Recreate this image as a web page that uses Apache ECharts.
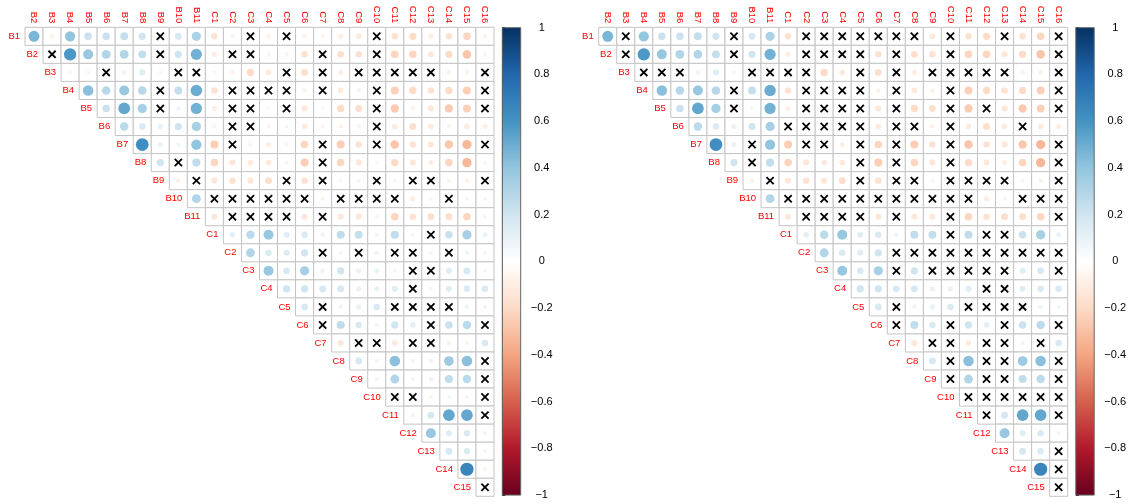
<!DOCTYPE html>
<html>
<head>
<meta charset="utf-8">
<script src="https://cdn.jsdelivr.net/npm/echarts@6/dist/echarts.min.js"></script>
<style>
  html, body { margin: 0; padding: 0; background: #fff; }
  #chart { width: 1132px; height: 504px; }
</style>
</head>
<body>
<div id="chart"></div>
<script>
const colLabels = ['B2', 'B3', 'B4', 'B5', 'B6', 'B7', 'B8', 'B9', 'B10', 'B11',
  'C1', 'C2', 'C3', 'C4', 'C5', 'C6', 'C7', 'C8', 'C9', 'C10', 'C11', 'C12', 'C13', 'C14', 'C15', 'C16'];
const rowLabels = ['B1', 'B2', 'B3', 'B4', 'B5', 'B6', 'B7', 'B8', 'B9', 'B10', 'B11',
  'C1', 'C2', 'C3', 'C4', 'C5', 'C6', 'C7', 'C8', 'C9', 'C10', 'C11', 'C12', 'C13', 'C14', 'C15'];

// upper triangle, row i starts at column i
const corrRows = [
  [.46, -.08, .4, .22, .22, .24, .2, .02, .18, .32, -.16, .07, .02, -.08, .02, -.07, -.07, -.1, -.12, .02, -.16, -.2, -.1, -.16, -.22, -.08],
  [.02, .58, .38, .3, .3, .24, .02, .2, .48, -.1, .02, .02, -.06, -.07, -.16, .02, -.18, -.16, .02, -.22, -.22, -.14, -.2, -.28, -.06],
  [-.06, .06, .02, .08, .14, .06, .02, .02, -.06, -.08, -.2, -.12, .02, -.18, .02, -.1, .02, .02, .02, .02, .02, -.08, -.08, .02],
  [.42, .28, .38, .28, .02, .24, .5, -.16, .02, .02, .02, .02, -.08, .02, -.12, -.08, .02, -.24, -.2, -.16, -.2, -.24, .02],
  [.22, .52, .33, .02, .07, .48, -.1, .02, .02, -.05, .02, -.14, .05, -.2, -.18, .02, -.26, -.07, -.14, -.26, -.24, .02],
  [.27, .16, .1, .2, .33, -.07, .02, .02, -.07, -.06, -.12, -.07, -.08, -.08, .02, -.12, -.18, -.12, -.07, -.12, -.1],
  [.62, .1, .07, .4, -.25, .02, -.07, -.1, -.07, -.22, .02, -.25, -.16, .02, -.28, -.16, -.14, -.27, -.33, .02],
  [.2, .02, .25, -.22, -.14, -.12, -.12, -.07, -.25, .02, -.22, -.14, -.06, -.2, -.14, -.1, -.22, -.33, -.06],
  [-.08, .02, -.14, -.16, -.14, -.18, .02, -.16, .02, -.07, -.07, .02, -.06, .02, .02, -.07, -.08, .02],
  [.3, .02, .02, .02, .02, .02, .02, -.06, .02, .02, .02, .02, -.1, -.06, .02, -.06, -.06],
  [-.14, .02, .02, .02, .02, -.14, .02, -.14, -.14, -.06, -.22, -.16, -.18, -.18, -.22, -.06],
  [.12, .27, .38, .14, .16, .08, .25, .24, .07, .25, .06, .02, .22, .33, .1],
  [.3, .16, .14, .2, .02, .06, .02, .08, .02, .02, -.06, .02, .08, .07],
  [.38, .17, .33, .08, .2, .1, .1, .07, .02, .02, .14, .18, .06],
  [.2, .2, .18, .18, .1, .1, .14, .02, -.06, .14, .16, .16],
  [.17, .02, .08, .1, .16, .02, .02, .02, .02, .08, .07],
  [.02, .25, .16, .07, .2, .12, .02, .22, .27, .02],
  [-.14, .02, .02, -.12, .02, .02, -.08, -.07, .16],
  [.18, .07, .42, .07, .07, .36, .42, .02],
  [.07, .3, .07, .08, .25, .27, .02],
  [.02, .02, -.07, .06, .06, .02],
  [.07, .18, .52, .52, .02],
  [.38, .14, .16, .07],
  [.18, .16, .06],
  [.66, -.07],
  [.02]
];

// 'x' = not significant
const insigLeft = [
  '.......x....x.x....x......',
  'x.....x...xx...x..x......',
  '..x...xx....x.x.xxxxx..x',
  '....x...xxxx.x..x.....x',
  '...x...xx.x....x.....x',
  '......xx......x......',
  '.....x....x..x.....x',
  '.x.......x.........',
  '.x....x.x..x.xx..x',
  '.xxxxxx.xxxx..x..',
  '.xxxx.x.........',
  '...........x...',
  '....x.x.xx.x..',
  '........xx...',
  '.......x....',
  '.x...xxxx..',
  'x.....x..x',
  '.xx.xx...',
  '.......x',
  '......x',
  'xx...x',
  '....x',
  '....',
  '...',
  '..',
  'x'
];
const insigRight = [
  '.x.....x...xxxxxxx.x..x..x',
  'x.....x...xxxx.x..x.....x',
  'xxx...xxxx..x.x.xxxxx..x',
  '....x...xxxx.x..x.....x',
  '...x...xxxx.x..x.x...x',
  '.....xxxxx.xx.x...x..',
  '..x..xx.x.x..x.....x',
  '.x.....x.x..x.....x',
  '.x....x.xx.xxxx..x',
  '.xxxxxxxxxxx..xxx',
  '.xxxx.x..x.....x',
  '........x.xx...',
  '....xxxxxxxxxx',
  '...x.xxxxx..x',
  '.......xx...',
  '.x...xxxx..',
  'x..x..x..x',
  '.xx.xx.x.',
  '.x.xx..x',
  'x.xx..x',
  'xxxxxx',
  'x...x',
  '....',
  '..x',
  '.x',
  'x'
];

const barTicks = ['\u22121', '\u22120.8', '\u22120.6', '\u22120.4', '\u22120.2', '0', '0.2', '0.4', '0.6', '0.8', '1'];
const palette = ['#67001F', '#B2182B', '#D6604D', '#F4A582', '#FDDBC7', '#FFFFFF',
  '#D1E5F0', '#92C5DE', '#4393C3', '#2166AC', '#053061'];

function hex(c) {
  return [1, 3, 5].map(k => parseInt(c.slice(k, k + 2), 16));
}
function corrColor(v) {
  const t = (v + 1) / 2 * 10;
  const i = Math.max(0, Math.min(9, Math.floor(t)));
  const f = t - i;
  const a = hex(palette[i]), b = hex(palette[i + 1]);
  const m = a.map((x, k) => Math.round(x + (b[k] - x) * f));
  return 'rgb(' + m.join(',') + ')';
}

function cells(mask) {
  const out = [];
  corrRows.forEach((vals, i) => {
    vals.forEach((v, k) => {
      out.push([i + k, i, v, mask[i][k] === 'x' ? 1 : 0]);
    });
  });
  return out;
}

const labelFont = 'Liberation Sans, Arial, sans-serif';

function renderCell(params, api) {
  const c = api.coord([api.value(0), api.value(1)]);
  const s = api.size([1, 1]);
  const v = api.value(2);
  const children = [{
    type: 'rect',
    shape: { x: c[0] - s[0] / 2, y: c[1] - s[1] / 2, width: s[0], height: s[1] },
    style: { fill: '#fff', stroke: '#c4c4c4', lineWidth: 1 }
  }];
  if (api.value(3)) {
    const h = 3.6;
    children.push({ type: 'line', shape: { x1: c[0] - h, y1: c[1] - h, x2: c[0] + h, y2: c[1] + h }, style: { stroke: '#000', lineWidth: 1.8 } });
    children.push({ type: 'line', shape: { x1: c[0] - h, y1: c[1] + h, x2: c[0] + h, y2: c[1] - h }, style: { stroke: '#000', lineWidth: 1.8 } });
  } else {
    children.push({
      type: 'circle',
      shape: { cx: c[0], cy: c[1], r: 0.45 * Math.sqrt(Math.abs(v)) * s[0] },
      style: { fill: corrColor(v) }
    });
  }
  return { type: 'group', children: children };
}

function renderRowLabel(params, api) {
  const i = api.value(0);
  const c = api.coord([i, i]);
  const s = api.size([1, 1]);
  return {
    type: 'text',
    style: {
      x: c[0] - s[0] / 2 - 5, y: c[1],
      text: rowLabels[i], fill: '#ff0000',
      font: '9.5px ' + labelFont,
      align: 'right', verticalAlign: 'middle'
    }
  };
}

function renderBar(params, api) {
  const cs = params.coordSys;
  const stops = palette.map((col, k) => ({ offset: 1 - k / 10, color: col }));
  stops.reverse();
  return {
    type: 'rect',
    shape: { x: cs.x, y: cs.y, width: cs.width, height: cs.height },
    style: {
      fill: new echarts.graphic.LinearGradient(0, 0, 0, 1, stops),
      stroke: '#666', lineWidth: 1
    }
  };
}

const plots = [
  { left: 25, bar: 502.3, mask: insigLeft },
  { left: 598.7, bar: 1075.8, mask: insigRight }
];

const grid = [], xAxis = [], yAxis = [], series = [];
plots.forEach((p, n) => {
  const g = n * 2;
  grid.push({ left: p.left, top: 27.3, width: 469, height: 469 });
  grid.push({ left: p.bar, top: 27.7, width: 18.4, height: 467.4 });
  xAxis.push({
    type: 'category', data: colLabels, gridIndex: g, position: 'top',
    axisLine: { show: false }, axisTick: { show: false }, splitLine: { show: false },
    axisLabel: { interval: 0, rotate: 90, margin: 4, color: '#ff0000', fontSize: 9.5, fontFamily: labelFont }
  });
  yAxis.push({ type: 'category', data: rowLabels, gridIndex: g, inverse: true, show: false });
  xAxis.push({ type: 'value', gridIndex: g + 1, min: 0, max: 1, show: false });
  yAxis.push({
    type: 'value', gridIndex: g + 1, min: -1, max: 1, interval: 0.2, position: 'right',
    axisLine: { show: true, lineStyle: { color: '#000', width: 1 } },
    axisTick: { show: true, length: 3, lineStyle: { color: '#000' } },
    splitLine: { show: false },
    axisLabel: {
      margin: 21, align: 'center', color: '#000', fontSize: 11, fontFamily: labelFont,
      formatter: (val, idx) => barTicks[idx]
    }
  });
  series.push({
    type: 'custom', xAxisIndex: g, yAxisIndex: g, renderItem: renderCell,
    encode: { x: 0, y: 1 }, data: cells(p.mask)
  });
  series.push({
    type: 'custom', xAxisIndex: g, yAxisIndex: g, renderItem: renderRowLabel,
    encode: { x: 0, y: 0 }, data: rowLabels.map((r, i) => [i])
  });
  series.push({
    type: 'custom', xAxisIndex: g + 1, yAxisIndex: g + 1, renderItem: renderBar,
    data: [[0.5, 0]], silent: true
  });
});

const chart = echarts.init(document.getElementById('chart'), null, { renderer: 'canvas' });
chart.setOption({
  animation: false,
  backgroundColor: '#fff',
  grid: grid,
  xAxis: xAxis,
  yAxis: yAxis,
  series: series
});
</script>
</body>
</html>
